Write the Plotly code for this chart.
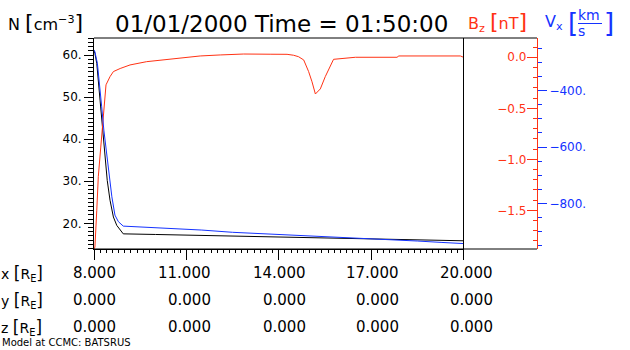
import plotly.graph_objects as go

# Satellite-track sample along the x axis (Earth radii)
x_n = [8.0, 8.03, 8.09, 8.14, 8.22, 8.28, 8.36, 8.43, 8.52, 8.63, 8.74, 8.85, 8.95,
       10.0, 11.0, 12.0, 13.0, 14.0, 15.0, 16.0, 17.0, 18.0, 19.0, 20.0]
density = [61.0, 60.4, 58.0, 54.0, 48.6, 42.1, 35.8, 30.2, 25.5, 21.5, 19.5, 18.3, 17.5,
           17.35, 17.2, 17.05, 16.9, 16.75, 16.6, 16.45, 16.3, 16.15, 16.05, 15.85]

x_b = [8.0, 8.03, 8.09, 8.14, 8.22, 8.28, 8.33, 8.39, 8.52, 8.63, 8.85, 9.17, 9.71,
       10.25, 10.9, 11.45, 12.1, 12.86, 13.72, 14.27, 14.48, 14.64, 14.81, 14.97,
       15.08, 15.19, 15.35, 15.51, 15.78, 16.11, 16.49, 17.84, 17.9, 19.9, 20.0]
bz = [-1.88, -1.86, -1.50, -1.17, -0.88, -0.64, -0.45, -0.27, -0.19, -0.14, -0.11,
      -0.075, -0.043, -0.026, 0.0, 0.013, 0.023, 0.032, 0.030, 0.029, 0.020, 0.006,
      -0.026, -0.14, -0.24, -0.36, -0.31, -0.19, -0.02, -0.01, 0.0, 0.0, 0.013, 0.013, 0.0]

x_v = [8.0, 8.03, 8.11, 8.17, 8.25, 8.32, 8.41, 8.50, 8.58, 8.68, 8.79, 8.95,
       9.5, 10.5, 11.5, 12.5, 13.5, 14.5, 15.5, 16.5, 17.5, 18.5, 19.3, 20.0]
vx = [-255, -262, -303, -362, -457, -540, -622, -693, -777, -842, -865, -881,
      -884, -889, -895, -903, -908, -912, -918, -923, -929, -934, -939, -943]

# Position table under the plot
col_x = [8, 11, 14, 17, 20]
x_labels = ["8.000", "11.000", "14.000", "17.000", "20.000"]
y_labels = ["0.000", "0.000", "0.000", "0.000", "0.000"]
z_labels = ["0.000", "0.000", "0.000", "0.000", "0.000"]

RED = "#ff3214"
BLUE = "#1432ff"
FONT = "DejaVu Sans"

W, H = 630, 350
L, R, T, B = 94, 537, 38, 249


def px(xp):
    return (xp - L) / (R - L)


def py(yp):
    return (B - yp) / (B - T)


fig = go.Figure()
fig.add_trace(go.Scatter(x=x_n, y=density, mode="lines", yaxis="y",
                         line=dict(color="black", width=1)))
fig.add_trace(go.Scatter(x=x_v, y=vx, mode="lines", yaxis="y3",
                         line=dict(color=BLUE, width=1)))
fig.add_trace(go.Scatter(x=x_b, y=bz, mode="lines", yaxis="y2",
                         line=dict(color=RED, width=1)))

x_end = px(463.5)

fig.update_layout(
    width=W, height=H, autosize=False,
    margin=dict(l=L, r=W - R, t=T, b=H - B, pad=0),
    paper_bgcolor="white", plot_bgcolor="white", showlegend=False,
    font=dict(family=FONT, size=12, color="black"),
    xaxis=dict(domain=[0, x_end], range=[8, 20], tick0=8, dtick=3,
               ticks="outside", ticklen=10, tickcolor="black", showticklabels=False,
               showline=True, linecolor="black", linewidth=1,
               showgrid=False, zeroline=False,
               minor=dict(dtick=0.2, ticklen=3, ticks="outside", tickcolor="black")),
    yaxis=dict(range=[13.9, 64.04], tick0=0, dtick=10, tickformat="d", ticksuffix=".",
               ticks="outside", ticklen=9, tickcolor="black",
               showline=True, linecolor="black", linewidth=1,
               showgrid=False, zeroline=False,
               tickfont=dict(family=FONT, size=12, color="black"),
               minor=dict(dtick=1, ticklen=5, ticks="outside", tickcolor="black")),
    yaxis2=dict(overlaying="y", anchor="free", position=1, side="right",
                range=[-1.879, 0.189], tick0=0, dtick=0.5, tickformat=".1f",
                ticks="inside", ticklen=10, tickcolor=RED, ticklabelposition="inside",
                showline=True, linecolor=RED, linewidth=1,
                showgrid=False, zeroline=False,
                tickfont=dict(family=FONT, size=12, color=RED),
                minor=dict(dtick=0.1, ticklen=4, ticks="inside", tickcolor=RED)),
    yaxis3=dict(overlaying="y", anchor="free", position=1, side="right",
                range=[-962.3, -212.8], tick0=0, dtick=200, tickformat="d", ticksuffix=".",
                ticks="outside", ticklen=9, tickcolor=BLUE,
                showline=False, showgrid=False, zeroline=False,
                tickfont=dict(family=FONT, size=12, color=BLUE),
                minor=dict(dtick=50, ticklen=4, ticks="outside", tickcolor=BLUE)),
)

# Frame: top and bottom rules spanning both axis columns, divider at x = 20
fig.add_shape(type="line", xref="paper", yref="paper", x0=0, x1=1, y0=1, y1=1,
              line=dict(color="black", width=1))
fig.add_shape(type="line", xref="paper", yref="paper", x0=0, x1=1, y0=0, y1=0,
              line=dict(color="black", width=1))
fig.add_shape(type="line", xref="paper", yref="paper", x0=x_end, x1=x_end,
              y0=py(259), y1=1, line=dict(color="black", width=1))


def note(text, xp, yp, size, color="black", anchor="left"):
    fig.add_annotation(text=text, xref="paper", yref="paper", x=px(xp), y=py(yp),
                       xanchor=anchor, yanchor="middle", showarrow=False,
                       font=dict(family=FONT, size=size, color=color))


big = '<span style="font-size:22px">%s</span>'

# Header
note("N " + big % "[" + "cm<sup>−3</sup>" + big % "]", 6, 22, 16)
note("01/01/2000 Time = 01:50:00", 281, 24, 23, anchor="center")
note("B<sub>z</sub> " + big % "[" + "nT" + big % "]", 466, 22, 16, color=RED)
note("V<sub>x</sub>", 543, 22, 16, color=BLUE)
note('<span style="font-size:26px">[</span>', 566, 23, 16, color=BLUE)
note("km", 576, 15, 14, color=BLUE)
note("s", 576, 31, 14, color=BLUE)
note('<span style="font-size:26px">]</span>', 602, 23, 16, color=BLUE)
fig.add_shape(type="line", xref="paper", yref="paper", x0=px(578), x1=px(602),
              y0=py(23.5), y1=py(23.5), line=dict(color=BLUE, width=1))

# Position table
rows = [("x", x_labels, 273), ("y", y_labels, 300), ("z", z_labels, 327)]
shifts = [24, 27, 29, 30, 31]
for name, labels, yrow in rows:
    note(name + " " + '<span style="font-size:17px">[</span>R<sub>E</sub>'
         + '<span style="font-size:17px">]</span>', -1, yrow, 14)
    for cx, lab, sh in zip(col_x, labels, shifts):
        fig.add_annotation(text=lab, xref="x", yref="paper", x=cx, y=py(yrow),
                           xanchor="right", yanchor="middle", xshift=sh, showarrow=False,
                           font=dict(family=FONT, size=15, color="black"))

note("Model at CCMC: BATSRUS", 0, 342, 10)

fig.write_html("out.html")
